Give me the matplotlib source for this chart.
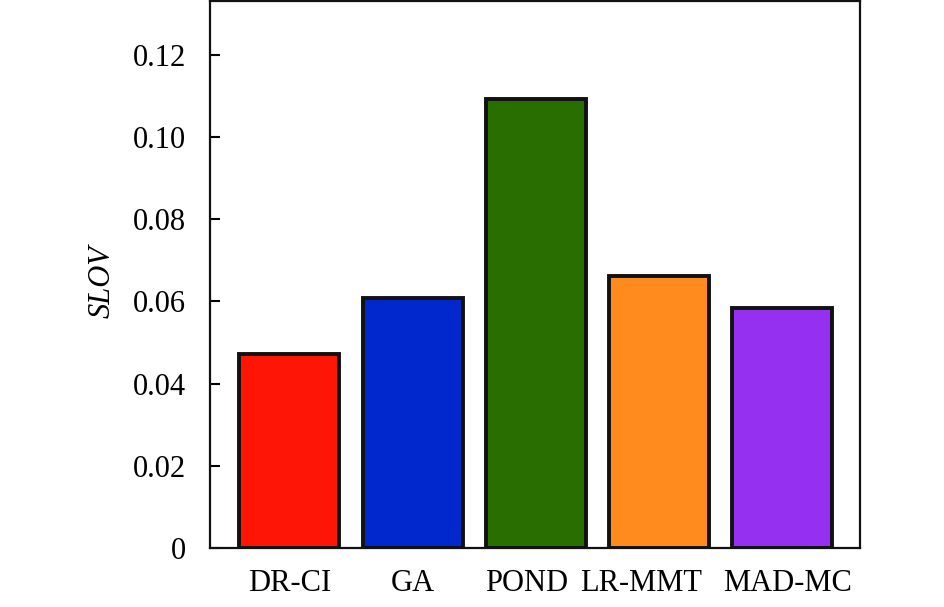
import matplotlib
matplotlib.use("Agg")
import matplotlib.pyplot as plt
import matplotlib.transforms as mtransforms

categories = ["DR-CI", "GA", "POND", "LR-MMT", "MAD-MC"]
values = [0.0472, 0.0608, 0.1093, 0.0662, 0.0584]
colors = ["#FF1505", "#0028CC", "#286E00", "#FF8A1E", "#9530F0"]
yticks = [0, 0.02, 0.04, 0.06, 0.08, 0.10, 0.12]
yticklabels = ["0", "0.02", "0.04", "0.06", "0.08", "0.10", "0.12"]

plt.rcParams['font.family'] = ['Liberation Serif', 'DejaVu Serif']

fig = plt.figure(figsize=(9.45, 6.07), dpi=100)
ax = fig.add_axes([210.5/945, 1 - 548/607, (860 - 210.5)/945, (548 - 1)/607])

x = list(range(len(categories)))
ax.bar(x, values, width=0.81, color=colors, edgecolor="#111111", linewidth=2.8, zorder=2)

ax.set_xlim(-0.64, 4.63)
ax.set_ylim(0, 0.1331)
ax.set_yticks(yticks)
ax.set_yticklabels(yticklabels, fontsize=22)
ax.set_xticks(x)
ax.set_xticklabels(categories, fontsize=22)
ax.tick_params(axis='y', direction='in', length=7, width=1.5, pad=17.5)
ax.tick_params(axis='x', length=0, pad=15)

# small horizontal nudges of the category labels (pixels), as in the original
label_nudge_px = [0, 0, -9, -18, 5]
for lbl, dx in zip(ax.get_xticklabels(), label_nudge_px):
    lbl.set_transform(lbl.get_transform() + mtransforms.ScaledTranslation(dx / 100, 0, fig.dpi_scale_trans))

for s in ax.spines.values():
    s.set_linewidth(1.6)
    s.set_color("#111111")
ax.set_ylabel("SLOV", fontsize=22, fontstyle='italic')
ax.yaxis.set_label_coords(-0.144, 0.488)

fig.savefig("out.png", dpi=100)
